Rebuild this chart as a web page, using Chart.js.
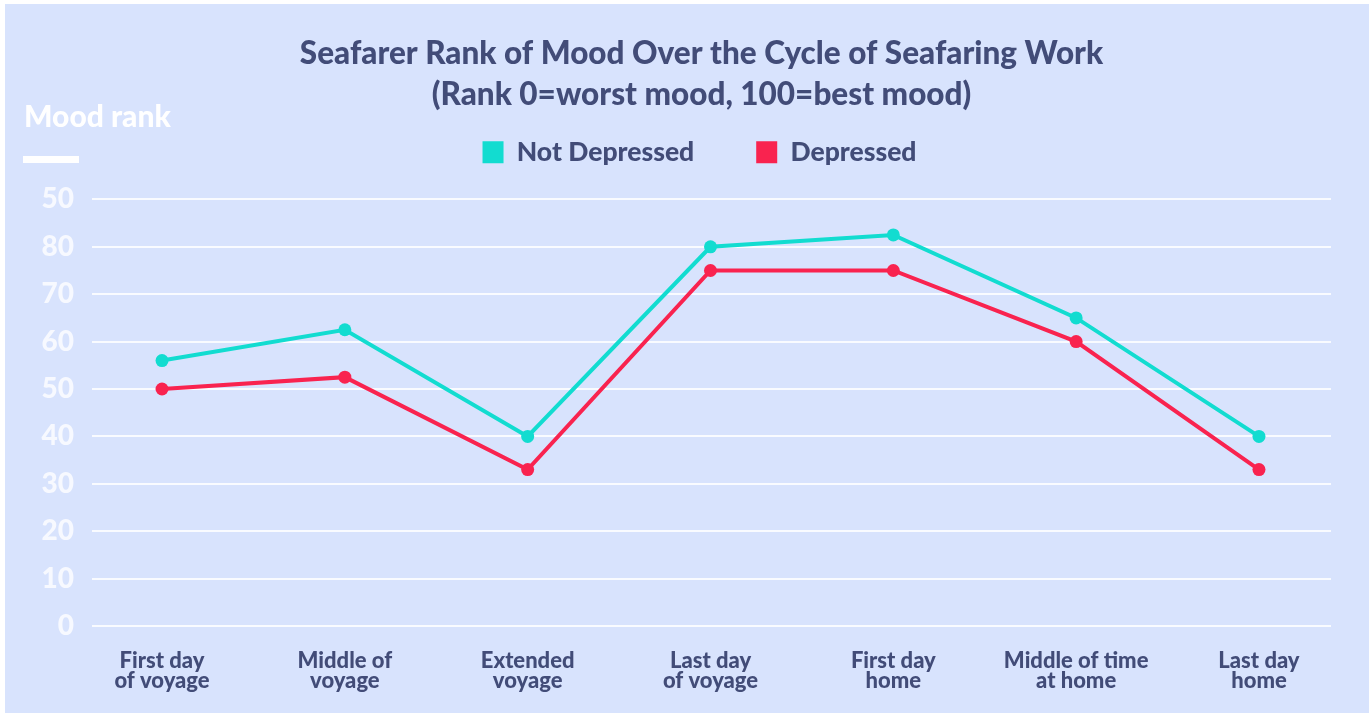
<!DOCTYPE html>
<html><head><meta charset="utf-8">
<script src="https://cdn.jsdelivr.net/npm/chart.js@4.4.1/dist/chart.umd.min.js"></script>
<style>html,body{margin:0;padding:0;background:#fff;overflow:hidden;}</style>
</head><body>
<canvas id="c" width="1369" height="713" style="display:block;width:1369px;height:713px"></canvas>
<script>
const categories = [["First day","of voyage"],["Middle of","voyage"],["Extended","voyage"],["Last day","of voyage"],["First day","home"],["Middle of time","at home"],["Last day","home"]];
const notDepressed = [56, 62.5, 40, 80, 82.5, 65, 40];
const depressed = [50, 52.5, 33, 75, 75, 60, 33];
const yTickLabels = ['0','10','20','30','40','50','60','70','80','50'];
const seriesNames = ['Not Depressed', 'Depressed'];
const titleLines = ['Seafarer Rank of Mood Over the Cycle of Seafaring Work', '(Rank 0=worst mood, 100=best mood)'];
const yAxisTitle = 'Mood rank';

const FONT = 'Lato, "Open Sans", sans-serif';
const NAVY = '#424C78';
const TEAL = '#12DCD0';
const RED = '#F9234F';
const BG = '#D8E3FD';

const decor = {
  id: 'decor',
  afterLayout(chart) {
    if (chart.titleBlock) { chart.titleBlock.left -= 10; chart.titleBlock.right -= 10; chart.titleBlock.top += 1; }
    if (chart.legend) { chart.legend.left -= 12; chart.legend.right -= 12; chart.legend.top -= 1; }
  },
  beforeDraw(chart) {
    const ctx = chart.ctx;
    ctx.save();
    ctx.fillStyle = '#ffffff';
    ctx.fillRect(0, 0, chart.width, chart.height);
    ctx.fillStyle = BG;
    ctx.fillRect(5, 4, chart.width - 5, chart.height - 4);
    ctx.fillStyle = '#ffffff';
    ctx.font = '900 30px ' + FONT;
    ctx.textBaseline = 'alphabetic';
    ctx.textAlign = 'left';
    ctx.fillText(yAxisTitle, 24, 127);
    ctx.fillRect(23, 156, 56, 7);
    ctx.restore();
  }
};

const toPoints = arr => arr.map((v, i) => ({x: i, y: v}));

new Chart(document.getElementById('c'), {
  type: 'line',
  data: {
    datasets: [
      {label: seriesNames[0], data: toPoints(notDepressed), borderColor: TEAL, backgroundColor: TEAL,
       borderWidth: 4, pointRadius: 6.5, pointBackgroundColor: TEAL, pointBorderWidth: 0, tension: 0},
      {label: seriesNames[1], data: toPoints(depressed), borderColor: RED, backgroundColor: RED,
       borderWidth: 4, pointRadius: 6.5, pointBackgroundColor: RED, pointBorderWidth: 0, tension: 0}
    ]
  },
  options: {
    responsive: false,
    animation: false,
    devicePixelRatio: 1,
    layout: {padding: {left: 0, right: 38, top: 0, bottom: 7}},
    plugins: {
      title: {
        display: true, text: titleLines, color: NAVY, fullSize: false, weight: 2000,
        font: {family: FONT, size: 31.5, weight: '900', lineHeight: 1.3},
        padding: {top: 32, bottom: -36}
      },
      legend: {
        display: true, fullSize: false, weight: 1800,
        labels: {
          color: NAVY, boxWidth: 21, boxHeight: 22, padding: 62,
          font: {family: FONT, size: 26.5, weight: '900'},
          generateLabels(chart) {
            return chart.data.datasets.map((d, i) => ({
              text: d.label, fillStyle: d.borderColor, strokeStyle: d.borderColor,
              lineWidth: 0, hidden: false, datasetIndex: i, fontColor: NAVY
            }));
          }
        }
      },
      subtitle: {
        display: true, text: '', fullSize: false, weight: 1500,
        font: {size: 1, lineHeight: 1}, padding: {top: 0, bottom: 22}
      },
      tooltip: {enabled: false}
    },
    scales: {
      x: {
        type: 'linear', min: -0.383, max: 6.394,
        grid: {display: false, drawTicks: false},
        border: {display: false},
        afterFit(scale) { scale.height = 80; },
        ticks: {
          stepSize: 1, includeBounds: false, autoSkip: false, maxRotation: 0, minRotation: 0,
          padding: 24, color: NAVY,
          font: {family: FONT, size: 22, weight: '900', lineHeight: 0.95},
          callback: v => (Number.isInteger(v) && categories[v]) ? categories[v] : ''
        }
      },
      y: {
        min: 0, max: 90,
        grid: {color: 'rgba(255,255,255,0.85)', lineWidth: 2, drawTicks: false},
        border: {display: false},
        afterFit(scale) { scale.width = 92; },
        ticks: {
          stepSize: 10, padding: 18, color: '#F7F9FF', autoSkip: false,
          font: {family: FONT, size: 28, weight: '900'},
          callback: (v, i) => yTickLabels[i]
        }
      }
    }
  },
  plugins: [decor]
});
</script>
</body></html>
